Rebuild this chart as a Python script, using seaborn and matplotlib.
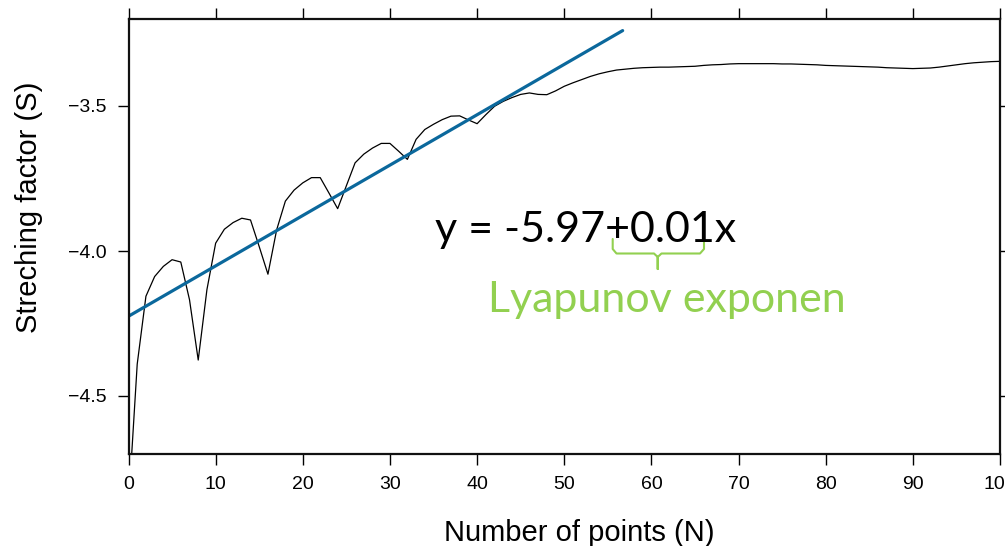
import numpy as np
import pandas as pd
import seaborn as sns
import matplotlib.pyplot as plt
from matplotlib.lines import Line2D

# ---- data ----
n_points = list(range(0, 101))
stretch = [
    -4.88, -4.39, -4.156, -4.088, -4.053, -4.030, -4.038, -4.168, -4.376, -4.133,
    -3.973, -3.925, -3.902, -3.887, -3.893, -3.985, -4.080, -3.927, -3.828, -3.790,
    -3.765, -3.747, -3.747, -3.800, -3.854, -3.775, -3.696, -3.666, -3.645, -3.629,
    -3.629, -3.656, -3.684, -3.615, -3.581, -3.563, -3.547, -3.535, -3.534, -3.548,
    -3.561, -3.530, -3.501, -3.484, -3.471, -3.460, -3.455, -3.460, -3.461, -3.448,
    -3.432, -3.420, -3.409, -3.398, -3.389, -3.382, -3.376, -3.373, -3.370, -3.368,
    -3.367, -3.366, -3.366, -3.365, -3.364, -3.363, -3.360, -3.358, -3.357, -3.355,
    -3.354, -3.354, -3.354, -3.354, -3.354, -3.355, -3.355, -3.356, -3.357, -3.358,
    -3.360, -3.361, -3.362, -3.363, -3.364, -3.365, -3.366, -3.368, -3.369, -3.370,
    -3.371, -3.370, -3.369, -3.366, -3.362, -3.358, -3.354, -3.351, -3.349, -3.347,
    -3.346,
]
fit_n = [0, 56.7]
fit_s = [-4.225, -3.24]

x_ticks = [0, 10, 20, 30, 40, 50, 60, 70, 80, 90, 100]
y_ticks = [-4.5, -4.0, -3.5]

equation_text = "y = -5.97+0.01x"
note_text = "Lyapunov exponen"
x_label = "Number of points (N)"
y_label = "Streching factor (S)"

# ---- styling ----
sns.set_theme(style="ticks")
plt.rcParams["font.family"] = ["Liberation Sans", "DejaVu Sans"]
plt.rcParams["text.color"] = "black"
plt.rcParams["axes.labelcolor"] = "black"

BLUE = "#0b689c"
GREEN = "#92d050"

W, H = 1005, 546
L, R, B, T = 128.5, 1000, 454, 19
fig = plt.figure(figsize=(W / 100, H / 100), dpi=100)
ax = fig.add_axes([L / W, 1 - B / H, (R - L) / W, (B - T) / H])

df = pd.DataFrame({"N": n_points, "S": stretch})
sns.lineplot(data=df, x="N", y="S", ax=ax, color="black", linewidth=0.9)
sns.lineplot(x=fit_n, y=fit_s, ax=ax, color=BLUE, linewidth=2.3)

ax.set_xlim(0, 100)
ax.set_ylim(-4.7, -3.2)
ax.set_xticks(x_ticks)
ax.set_yticks(y_ticks)
ax.tick_params(direction="out", length=8, width=1, top=True, right=True,
               labelsize=14, pad=8, colors="black")
for s in ax.spines.values():
    s.set_visible(True)
    s.set_linewidth(1.6)
    s.set_color("#111111")

ax.set_xlabel(x_label, fontsize=21)
ax.set_ylabel(y_label, fontsize=21)
ax.xaxis.set_label_coords(0.517, -0.149)
ax.yaxis.set_label_coords(-0.098, 0.567)


def axc(px, py):
    return ((px - L) / (R - L), (B - py) / (B - T))


ex, ey = axc(435, 241.7)
ax.text(ex, ey, equation_text, transform=ax.transAxes, fontsize=31,
        family="Lato", color="black", ha="left", va="baseline")
lx, ly = axc(488, 311.7)
ax.text(lx, ly, note_text, transform=ax.transAxes, fontsize=31,
        family="Lato", color=GREEN, ha="left", va="baseline")

brace_px = [(612.7, 239), (612.7, 249), (616.5, 253.5), (654, 253.5), (657.7, 257),
            (657.7, 269), (657.7, 257), (661.5, 253.5), (700, 253.5), (704, 249),
            (704, 239)]
bx, by = zip(*[axc(px, py) for px, py in brace_px])
ax.add_line(Line2D(bx, by, transform=ax.transAxes, color=GREEN, linewidth=1.5,
                   solid_joinstyle="round"))

fig.savefig("out.png", dpi=100)
